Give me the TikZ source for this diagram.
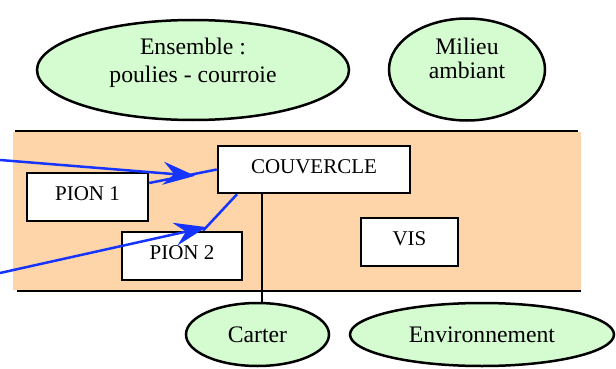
\documentclass[tikz,border=0pt]{standalone}
\usepackage{fontspec}
\setmainfont{Liberation Serif}
\usetikzlibrary{arrows.meta,shapes.geometric,calc}

\definecolor{peach}{RGB}{253,213,168}
\definecolor{palegreen}{RGB}{213,251,208}
\definecolor{actblue}{RGB}{22,52,255}

\begin{document}
\begin{tikzpicture}[
    x=1pt, y=-1pt,
    piece/.style={draw, line width=2.5pt, fill=white, inner sep=0pt,
                  text depth=6.5pt, font=\fontsize{21}{25}\selectfont},
    outside/.style={ellipse, draw, line width=2.5pt, fill=palegreen,
                    inner sep=0pt},
    outtext/.style={align=center, font=\fontsize{23.7}{28}\selectfont},
    link/.style={line width=2.5pt},
    contact/.style={draw=actblue, line width=2.5pt},
    action/.style={draw=actblue, line width=2.5pt,
                   -{Stealth[length=32pt, width=23pt, inset=11pt]}}
]
\useasboundingbox (0,0) rectangle (616,369);

% isolated system
\fill[peach] (13,132) rectangle (581,290);
\draw[link] (15,131) -- (578,131);
\draw[link] (17,291) -- (581,291);

% outside elements
\node[outside, minimum width=312pt, minimum height=100pt,
      label={[outtext, yshift=7.5pt]center:Ensemble :\\poulies - courroie}]
    (ensemble) at (193,70) {};
\node[outside, minimum width=156pt, minimum height=102pt,
      label={[outtext, font=\fontsize{23.7}{24}\selectfont, yshift=11pt]center:Milieu\\ambiant}]
    (milieu) at (467,69.5) {};
\node[outside, outtext, minimum width=143pt, minimum height=63pt] (carter)
    at (257.5,334.5) {Carter};
\node[outside, outtext, minimum width=264pt, minimum height=63pt] (env)
    at (482,334.5) {Environnement};

% parts
\node[piece, minimum width=192pt, minimum height=47pt] (couvercle)
    at (314,169.5) {COUVERCLE};
\node[piece, minimum width=121pt, minimum height=48pt] (pion1)
    at (87.5,197) {PION 1};
\node[piece, minimum width=120pt, minimum height=48pt] (pion2)
    at (182,256) {PION 2};
\node[piece, minimum width=97pt, minimum height=48pt] (vis)
    at (409.5,242) {VIS};

% connection with the carter
\draw[link] ([xshift=-52pt]couvercle.south)
    -- ([xshift=-52pt]couvercle.south |- carter.north);

% contacts
\draw[contact] ([yshift=14pt]pion1.east) -- coordinate[pos=0.68] (c1)
    (couvercle.west);
\draw[contact] ([xshift=21pt]pion2.north) -- coordinate[pos=0.1] (c2)
    ([xshift=-77pt]couvercle.south);

% mechanical actions
\coordinate (in1) at (0,160);
\coordinate (in2) at (0,273);
\draw[action] (in1) -- ([yshift=-2pt]c1);
\draw[action] (in2) -- (c2);

\end{tikzpicture}
\end{document}
